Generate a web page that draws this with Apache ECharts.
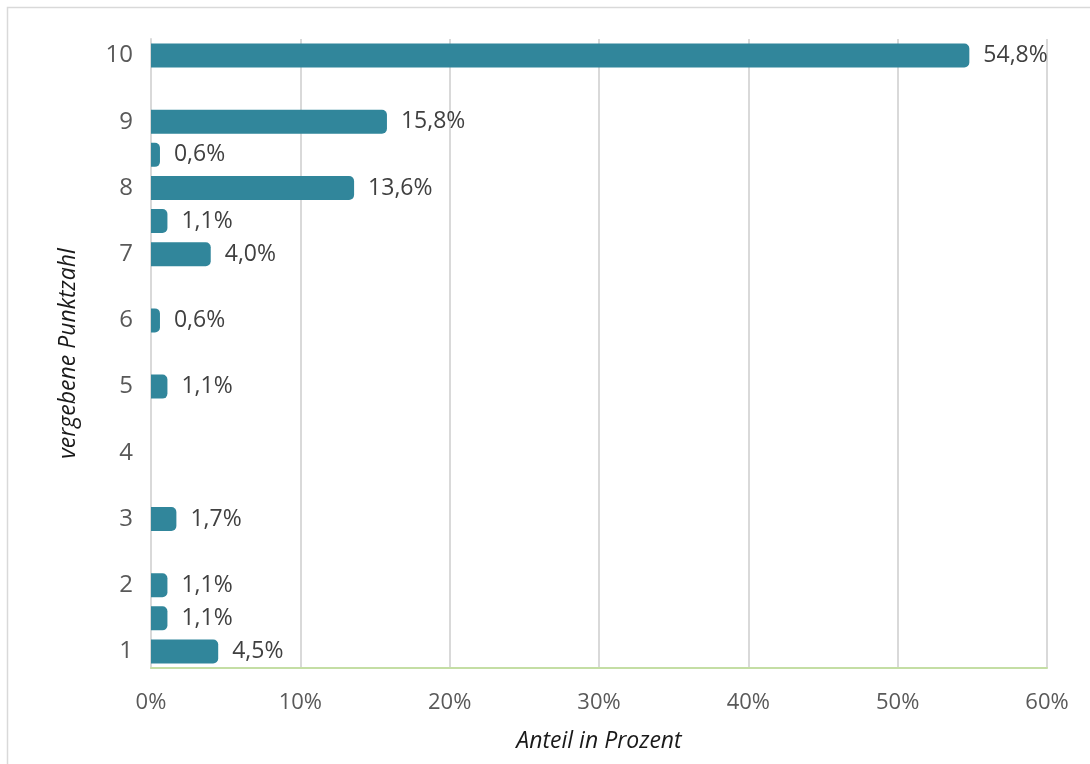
<!DOCTYPE html>
<html>
<head>
<meta charset="utf-8">
<script src="https://cdn.jsdelivr.net/npm/echarts@6/dist/echarts.min.js"></script>
<style>
  html, body { margin: 0; padding: 0; background: #fff; }
  #chart { width: 1090px; height: 764px; }
</style>
</head>
<body>
<div id="chart"></div>
<script>
// Score steps (half points included) from bottom to top
const categories = ['1', '1.5', '2', '2.5', '3', '3.5', '4', '4.5', '5', '5.5',
                    '6', '6.5', '7', '7.5', '8', '8.5', '9', '9.5', '10'];
// Share in percent for each score step (null = no votes)
const shares = [4.5, 1.1, 1.1, null, 1.7, null, null, null, 1.1, null,
                0.6, null, 4.0, 1.1, 13.6, 0.6, 15.8, null, 54.8];
// Percentage ticks on the value axis
const xTicks = [0, 10, 20, 30, 40, 50, 60];

const fontFamily = '"Open Sans", "Noto Sans", sans-serif';
const fmt = v => String(v.toFixed(1)).replace('.', ',') + '%';

const chart = echarts.init(document.getElementById('chart'), null, { renderer: 'canvas' });
chart.setOption({
  animation: false,
  textStyle: { fontFamily },
  graphic: [{
    type: 'rect',
    shape: { x: 7.5, y: 7.5, width: 1200, height: 900 },
    style: { fill: null, stroke: '#d9d9d9', lineWidth: 1.5 },
    silent: true
  }],
  grid: { left: 151, right: 43, top: 39, bottom: 96, containLabel: false },
  xAxis: {
    type: 'value',
    min: xTicks[0],
    max: xTicks[xTicks.length - 1],
    interval: 10,
    name: 'Anteil in Prozent',
    nameLocation: 'middle',
    nameGap: 62,
    nameTextStyle: { fontSize: 23, fontStyle: 'italic', color: '#1a1a1a', verticalAlign: 'top' },
    axisLine: { show: true, lineStyle: { color: '#c4dea4', width: 2 } },
    axisTick: { show: false },
    axisLabel: { fontSize: 22, color: '#595959', margin: 24, formatter: v => v + '%' },
    splitLine: { show: true, lineStyle: { color: '#d9d9d9', width: 2 } }
  },
  yAxis: {
    type: 'category',
    data: categories,
    name: 'vergebene Punktzahl',
    nameLocation: 'middle',
    nameGap: 71,
    nameRotate: 90,
    nameTextStyle: { fontSize: 23, fontStyle: 'italic', color: '#1a1a1a' },
    axisLine: { show: true, lineStyle: { color: '#d9d9d9', width: 2 } },
    axisTick: { show: false },
    axisLabel: {
      fontSize: 24, color: '#595959', margin: 18, interval: 0,
      formatter: v => (v.indexOf('.') >= 0 ? '' : v)
    },
    splitLine: { show: false }
  },
  series: [{
    type: 'bar',
    data: shares,
    barWidth: 24,
    itemStyle: { color: '#31869b', borderRadius: [0, 5, 5, 0] },
    label: {
      show: true,
      position: 'right',
      distance: 14,
      fontSize: 23,
      color: '#404040',
      formatter: p => fmt(p.value)
    }
  }]
});
</script>
</body>
</html>
